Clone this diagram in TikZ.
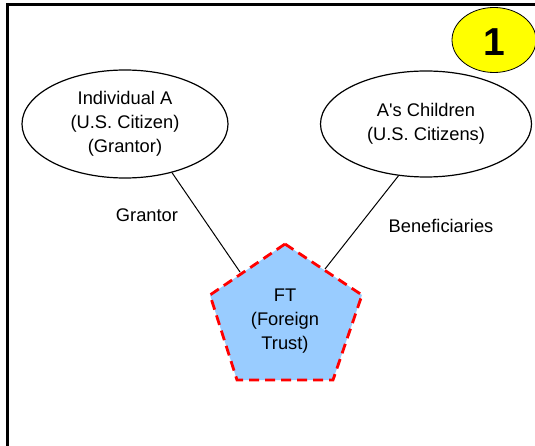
\documentclass[tikz,border=0pt]{standalone}
\usepackage{fontspec}
\setmainfont{Liberation Sans}
\usetikzlibrary{shapes.geometric}
\begin{document}
\begin{tikzpicture}[x=1pt,y=-1pt,
  txt/.style={font=\fontsize{18.3}{24}\selectfont, align=center},
  party/.style={ellipse, draw=black, line width=1.2pt, inner sep=0pt, txt},
  conn/.style={draw=black, line width=1pt},
  trustshape/.style={fill={rgb,255:red,153;green,204;blue,255}, draw={rgb,255:red,255;green,0;blue,0}, line width=2.8pt, dash pattern=on 10pt off 6pt, line join=miter},
  badge/.style={ellipse, draw=black, line width=0.8pt, fill={rgb,255:red,255;green,255;blue,0}, inner sep=0pt, minimum width=84pt, minimum height=65pt}
]
\useasboundingbox (0,0) rectangle (535,446);
% frame
\draw[line width=3pt, line cap=butt] (7,446) -- (7,5) -- (535,5);
% badge
\node[badge] (badge) at (494,40) {};
\node[font=\fontsize{39}{40}\selectfont\bfseries] (one) at (494,42) {1};
% parties
\node[party, minimum width=206pt, minimum height=108pt] (A) at (125,124) {Individual A\\(U.S. Citizen)\\(Grantor)};
\node[party, minimum width=211pt, minimum height=106pt] (C) at (426,124) {A\textquotesingle s Children\\(U.S. Citizens)};
% trust pentagon
\coordinate (p1) at (285,244);
\coordinate (p2) at (362,295);
\coordinate (p3) at (333,380);
\coordinate (p4) at (237,380);
\coordinate (p5) at (210,295);
\path[trustshape] (p1) -- (p2) -- (p3) -- (p4) -- (p5) -- cycle;
\node[txt] (FT) at (285,321) {FT\\(Foreign\\Trust)};
% connectors
\coordinate (gL) at (240,272);
\coordinate (gR) at (325,269);
\draw[conn] (A.-46) -- (gL);
\draw[conn] (C.-118) -- (gR);
% labels
\node[txt] (lg) at (147,215) {Grantor};
\node[txt] (lb) at (441,226) {Beneficiaries};
\end{tikzpicture}
\end{document}
